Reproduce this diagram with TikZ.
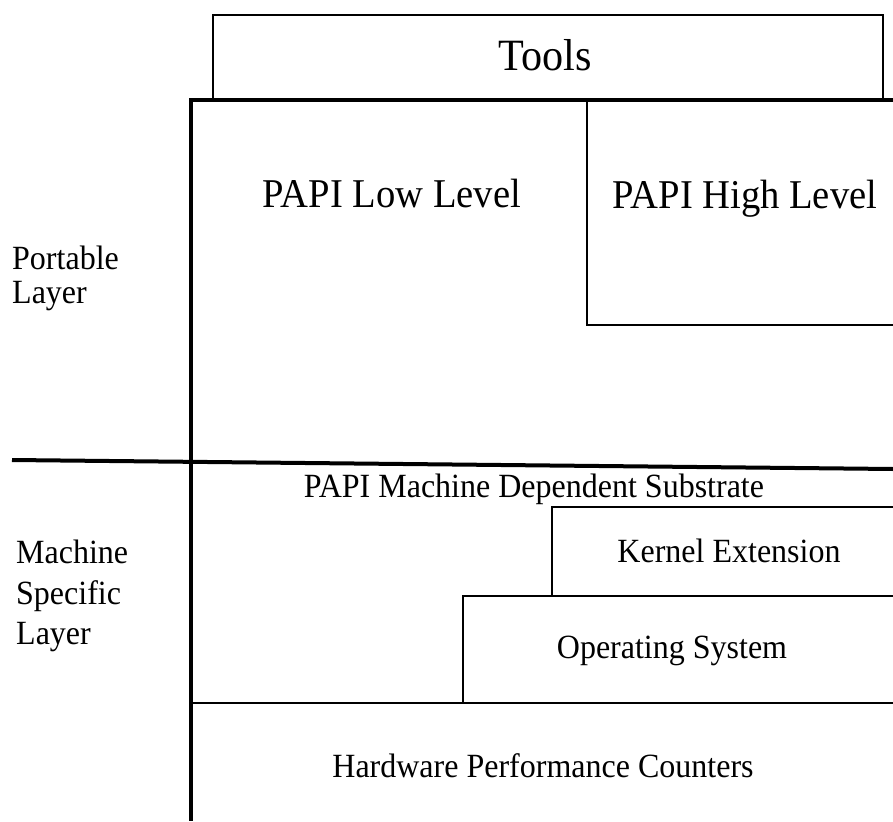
\documentclass[tikz,border=0pt]{standalone}
\usepackage{fontspec}
\setmainfont{Liberation Serif}
% text set slightly taller than its natural proportions
\newcommand\tallText[1]{\scalebox{1}[1.06]{#1}}
\begin{document}
\begin{tikzpicture}[x=1pt,y=-1pt,
  thin line/.style={line width=2pt},
  thick line/.style={line width=4pt},
  label/.style={inner sep=0pt,anchor=base,font=\fontsize{32}{38}\selectfont},
  side/.style={inner sep=0pt,anchor=base west,font=\fontsize{32}{38}\selectfont},
  big/.style={inner sep=0pt,anchor=base,font=\fontsize{38.6}{44}\selectfont}]
\useasboundingbox (0,0) rectangle (893,821);

% frame corners and edge points
\coordinate (tl) at (191,100);
\coordinate (tr) at (893,100);
\coordinate (bl) at (191,821);
\coordinate (sepL) at (12,460);
\coordinate (sepR) at (893,469);

% Tools box
\draw[thin line] (213,100) |- (883,15) -- (883,100);
\node[inner sep=0pt,anchor=base,font=\fontsize{42.2}{48}\selectfont] (tools) at (545,71) {\tallText{Tools}};

% PAPI High Level box
\draw[thin line] (587,100) |- (893,325);
\node[big] (low) at (392,207) {\tallText{PAPI Low Level}};
\node[big] (high) at (745,208) {\tallText{PAPI High Level}};

% layer separator
\draw[thick line] (sepL) -- (sepR);

% machine-dependent boxes
\node[label] (sub) at (534,497) {\tallText{PAPI Machine Dependent Substrate}};
\draw[thin line] (552,596) |- (893,507);
\node[label] (kern) at (729,562) {\tallText{Kernel Extension}};
\draw[thin line] (463,703) |- (893,596);
\node[label] (os) at (672,658) {\tallText{Operating System}};
\draw[thin line] (191,703) -- (893,703);
\node[label] (hw) at (543,777) {\tallText{Hardware Performance Counters}};

% outer frame
\draw[thick line] (tr) -- (tl) -- (bl);

% side labels
\node[side] (p1) at (12,269) {\tallText{Portable}};
\node[side] (p2) at (12,303) {\tallText{Layer}};
\node[side] (m1) at (16,563) {\tallText{Machine}};
\node[side] (m2) at (16,604) {\tallText{Specific}};
\node[side] (m3) at (16,644) {\tallText{Layer}};
\end{tikzpicture}
\end{document}
